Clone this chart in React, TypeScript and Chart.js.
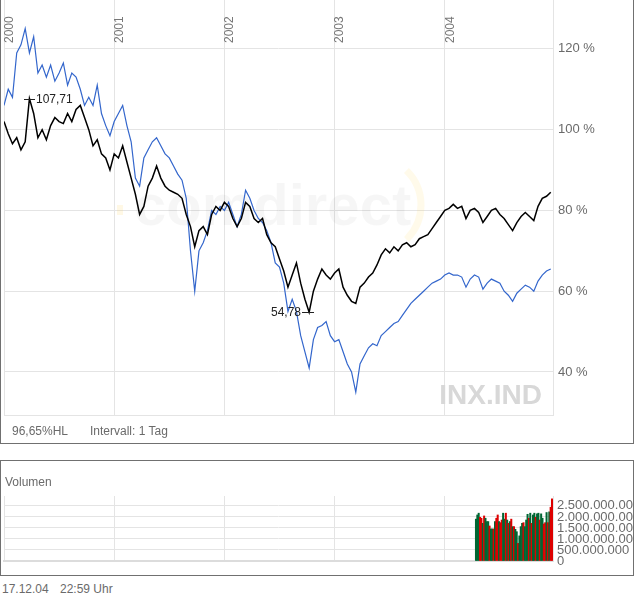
import { useEffect, useRef } from 'react';
import { Chart, registerables } from 'chart.js';

Chart.register(...registerables);

const FONT = '"Liberation Sans", Arial, sans-serif';
Chart.defaults.font.family = FONT;

// price data, sampled every second week starting Jan 2000
const START_YEAR = 2000;
const POINTS_PER_YEAR = 26;
const X_MAX = 2004.982;

// INX.IND (black), in % of reference
const inxValues = [
  102, 99, 96.5, 98, 95, 97, 107.7, 104, 98, 100,
  97.5, 101, 103, 102, 101.5, 104, 102, 105, 106, 103,
  100, 96, 97.5, 94, 93, 90, 94, 93, 96, 92,
  88, 84, 79, 81, 86, 88, 91, 88, 86, 85,
  84.5, 84, 83, 79, 76, 71, 75, 76, 74, 79,
  81, 80, 82, 81, 78, 76, 78, 82, 81, 78,
  77, 78, 74, 72, 71, 68, 65, 61, 64, 67,
  62, 58, 54.8, 60, 63, 65.5, 64, 63, 64.5, 65.5,
  61, 59, 57.5, 57, 61, 62, 63.5, 64.5, 66.5, 69,
  70.5, 69.5, 71, 70, 71.5, 72, 71, 71.5, 73, 73.5,
  74, 75.5, 77, 78.5, 80, 80.5, 81.5, 80.5, 81, 78,
  80, 80.5, 79.5, 77, 78.5, 80, 80.5, 79, 78, 76.5,
  75, 77, 78.5, 79.5, 78.5, 77.5, 81, 83, 83.5, 84.5,
];

// comparison index (blue)
const compareValues = [
  106, 110, 108, 119, 121, 125, 119, 123, 114, 116,
  113, 116, 112, 114, 116.5, 111, 114, 113, 110, 106,
  108, 106, 111, 104, 101, 98.5, 102, 104, 106, 101,
  97, 88, 86, 93, 95, 97, 98, 96, 94, 93,
  91, 89, 87.5, 83, 70, 60, 70, 72, 75, 80,
  79, 81, 80, 82, 79, 76, 79, 85, 83, 80,
  78, 77, 75, 72, 67, 66, 62, 55, 58, 55,
  49, 45, 41, 48, 51, 51.5, 52.5, 49, 47.5, 48,
  45, 42, 40, 35, 42, 44, 46, 47, 46.5, 49,
  50, 51, 52, 52.5, 54, 55.5, 57, 58, 59, 60,
  61, 62, 62.5, 63, 64, 64.5, 64, 64, 63.5, 61,
  63, 64, 63.5, 60.5, 62, 63, 62.5, 62, 60, 59,
  57.5, 59.5, 60.5, 61.5, 61, 60, 62.5, 64, 65, 65.5,
];

const yearTicks = [2000, 2001, 2002, 2003, 2004];
const percentTicks = [40, 60, 80, 100, 120];

const high = { year: 2000.236, value: 107.71, label: '107,71' };
const low = { year: 2002.768, value: 54.78, label: '54,78' };

// volume (millions), Apr - Dec 2004
const VOLUME_START = 2004.283;
const VOLUME_STEP = 0.01232;
const volumeMillions = [
  1900, 2090, 2170, 1985, 1940, 1710, 2045, 1940, 1790, 1790,
  1590, 1455, 1455, 1455, 1790, 1940, 2090, 1790, 1740, 1860,
  2170, 1900, 2170, 1860, 1710, 1790, 1900, 1560, 1560, 1440,
  1330, 800, 1140, 1560, 1710, 1740, 1560, 1860, 2120, 1940,
  2170, 1710, 2090, 2170, 1985, 2140, 2170, 1860, 2140, 1940,
  1680, 1740, 2200, 1740, 2230, 2440, 2820,
];
const volumeDirection = ('gggrrgrggg' + 'rggrgrrgrr' + 'ggrgrgrgrg' + 'grgggrgggr' + 'grggrggrgg' + 'rrgrgrr').split('');
const volumeTicks = [0, 5e8, 1e9, 1.5e9, 2e9, 2.5e9];

const GRID = '#e4e4e4';
const LABEL = '#6a6a6a';

const formatDe = (v: number) => String(Math.round(v)).replace(/\B(?=(\d{3})+(?!\d))/g, '.');

const mainDecor = {
  id: 'mainDecor',
  beforeDatasetsDraw(chart: any) {
    const { ctx, scales } = chart;
    ctx.save();
    // comdirect watermark
    ctx.font = `bold 58px ${FONT}`;
    ctx.fillStyle = 'rgba(0,0,0,0.035)';
    ctx.textAlign = 'left';
    ctx.textBaseline = 'alphabetic';
    ctx.fillText('comdirect', 133, 225);
    ctx.strokeStyle = 'rgba(255,210,80,0.12)';
    ctx.lineWidth = 7;
    ctx.beginPath();
    ctx.arc(372, 205, 48, -0.8, 0.8);
    ctx.stroke();
    ctx.fillStyle = 'rgba(255,210,80,0.15)';
    ctx.fillRect(116, 205, 6, 10);

    ctx.font = `bold 28px ${FONT}`;
    ctx.fillStyle = '#d8d8d8';
    ctx.textAlign = 'right';
    ctx.fillText('INX.IND', 541, 404);

    // year labels
    ctx.font = `12px ${FONT}`;
    ctx.fillStyle = '#777';
    ctx.textAlign = 'left';
    ctx.textBaseline = 'middle';
    yearTicks.forEach((yr) => {
      const px = scales.x.getPixelForValue(yr);
      ctx.save();
      ctx.translate(px + 5.5, 43);
      ctx.rotate(-Math.PI / 2);
      ctx.fillText(String(yr), 0, 0);
      ctx.restore();
    });
    ctx.restore();
  },
  afterDatasetsDraw(chart: any) {
    const { ctx, scales } = chart;
    ctx.save();
    ctx.font = `12px ${FONT}`;
    ctx.fillStyle = '#222';
    ctx.strokeStyle = '#222';
    ctx.lineWidth = 1;
    ctx.textBaseline = 'middle';

    const hx = scales.x.getPixelForValue(high.year);
    const hy = Math.round(scales.y.getPixelForValue(high.value)) + 0.5;
    ctx.beginPath();
    ctx.moveTo(hx - 6, hy);
    ctx.lineTo(hx + 5, hy);
    ctx.stroke();
    ctx.textAlign = 'left';
    ctx.fillText(high.label, hx + 6, hy);

    const lx = scales.x.getPixelForValue(low.year);
    const ly = Math.round(scales.y.getPixelForValue(low.value)) + 0.5;
    ctx.beginPath();
    ctx.moveTo(lx - 7, ly);
    ctx.lineTo(lx + 5, ly);
    ctx.stroke();
    ctx.textAlign = 'right';
    ctx.fillText(low.label, lx - 8, ly);
    ctx.restore();
  },
};

export default function App() {
  const mainRef = useRef<HTMLCanvasElement>(null);
  const volRef = useRef<HTMLCanvasElement>(null);

  useEffect(() => {
    if (!mainRef.current || !volRef.current) return;

    const yearGrid = (scale: any) => {
      scale.ticks = yearTicks.map((v) => ({ value: v }));
    };
    // fixed width for the right axis, no extra room for half labels
    const fixAxis = (s: any) => {
      s.width = 80;
      s.paddingTop = 0;
      s.paddingBottom = 0;
    };

    const mainChart = new Chart(mainRef.current, {
      type: 'line',
      data: {
        datasets: [
          {
            data: inxValues.map((v, i) => ({ x: START_YEAR + i / POINTS_PER_YEAR, y: v })),
            borderColor: '#000',
            borderWidth: 1.5,
            pointRadius: 0,
            tension: 0,
          },
          {
            data: compareValues.map((v, i) => ({ x: START_YEAR + i / POINTS_PER_YEAR, y: v })),
            borderColor: '#3366cc',
            borderWidth: 1.2,
            pointRadius: 0,
            tension: 0,
          },
        ],
      },
      options: {
        animation: false,
        responsive: false,
        devicePixelRatio: 1,
        layout: { padding: { left: 3, top: 0, right: 0, bottom: 28 } },
        plugins: { legend: { display: false }, tooltip: { enabled: false } },
        scales: {
          x: {
            type: 'linear',
            min: START_YEAR,
            max: X_MAX,
            afterBuildTicks: yearGrid,
            ticks: { display: false },
            grid: { color: GRID, drawTicks: false },
            border: { display: true, color: GRID },
          },
          y: {
            position: 'right',
            min: 29.35,
            max: 132.1,
            afterBuildTicks: (s: any) => {
              s.ticks = percentTicks.map((v) => ({ value: v }));
            },
            afterFit: fixAxis,
            ticks: {
              callback: (v: any) => `${v} %`,
              color: LABEL,
              font: { size: 13 },
              padding: 5,
            },
            grid: { color: GRID, drawTicks: false },
            border: { display: true, color: GRID },
          },
        },
      },
      plugins: [mainDecor],
    } as any);

    const volChart = new Chart(volRef.current, {
      type: 'bar',
      data: {
        datasets: [
          {
            data: volumeMillions.map((v, i) => ({ x: VOLUME_START + i * VOLUME_STEP, y: v * 1e6 })),
            backgroundColor: volumeDirection.map((d) => (d === 'g' ? '#006633' : '#dd0000')),
            barPercentage: 1,
            categoryPercentage: 1,
            borderWidth: 0,
          },
        ],
      },
      options: {
        animation: false,
        responsive: false,
        devicePixelRatio: 1,
        layout: { padding: { left: 3, top: 35, right: 0, bottom: 14 } },
        plugins: { legend: { display: false }, tooltip: { enabled: false } },
        scales: {
          x: {
            type: 'linear',
            offset: false,
            min: START_YEAR,
            max: X_MAX,
            afterBuildTicks: yearGrid,
            ticks: { display: false },
            grid: { color: GRID, drawTicks: false, offset: false },
            border: { display: true, color: '#dcdcdc', width: 2 },
          },
          y: {
            position: 'right',
            min: 0,
            max: 2.95e9,
            afterBuildTicks: (s: any) => {
              s.ticks = volumeTicks.map((v) => ({ value: v }));
            },
            afterFit: fixAxis,
            ticks: {
              callback: (v: any) => formatDe(Number(v)),
              color: LABEL,
              font: { size: 13 },
              padding: 4,
              autoSkip: false,
            },
            grid: { color: GRID, drawTicks: false },
            border: { display: true, color: GRID },
          },
        },
      },
    } as any);

    return () => {
      mainChart.destroy();
      volChart.destroy();
    };
  }, []);

  const text: React.CSSProperties = {
    position: 'absolute',
    fontFamily: FONT,
    fontSize: 12,
    color: LABEL,
    whiteSpace: 'nowrap',
    lineHeight: '14px',
  };

  return (
    <div
      style={{
        position: 'fixed',
        left: 0,
        top: 0,
        width: 634,
        height: 597,
        background: '#fff',
        overflow: 'hidden',
      }}
    >
      <div
        style={{
          position: 'absolute',
          left: 0,
          top: -1,
          width: 634,
          height: 445,
          boxSizing: 'border-box',
          border: '1px solid #707070',
        }}
      >
        <canvas ref={mainRef} width={632} height={443} style={{ display: 'block' }} />
      </div>
      <div style={{ ...text, left: 12, top: 424 }}>96,65%HL</div>
      <div style={{ ...text, left: 90, top: 424 }}>Intervall: 1 Tag</div>

      <div
        style={{
          position: 'absolute',
          left: 0,
          top: 460,
          width: 634,
          height: 116,
          boxSizing: 'border-box',
          border: '1px solid #707070',
        }}
      >
        <canvas ref={volRef} width={632} height={114} style={{ display: 'block' }} />
      </div>
      <div style={{ ...text, left: 5, top: 475 }}>Volumen</div>

      <div style={{ ...text, left: 2, top: 582 }}>17.12.04</div>
      <div style={{ ...text, left: 60, top: 582 }}>22:59 Uhr</div>
    </div>
  );
}
